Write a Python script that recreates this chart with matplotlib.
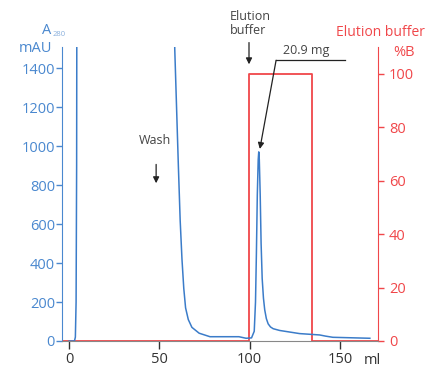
import matplotlib
matplotlib.use("Agg")
import matplotlib.pyplot as plt

plt.rcParams['font.family'] = ['Open Sans', 'DejaVu Sans']

# Absorbance trace (mAU), values above the top are off scale
volume = [0, 3.0, 3.5, 3.9, 4.2, 4.5, 5.0, 57.5, 58.5, 59.5, 60.5, 61.5, 62.5,
          63.5, 64.5, 66, 68, 72, 78, 94, 98, 101, 102.5, 103.2, 103.7, 104.2,
          104.7, 105, 105.3, 105.8, 106.3, 106.9, 107.6, 108.3, 109.2, 110.2,
          111.5, 113, 116.6, 127.6, 134, 138.7, 142, 146, 166.5]
a280 = [0, 0, 20, 200, 900, 3000, 4000, 4000, 1500, 1200, 900, 620, 420,
        270, 170, 110, 70, 40, 22, 22, 14, 16, 50, 200, 450, 750,
        930, 970, 930, 750, 500, 320, 220, 160, 115, 88,
        72, 63, 54, 38, 34, 31, 25, 19, 14]

# Elution buffer (%B)
buf_volume = [-4, 99.4, 99.4, 134.3, 134.3, 171]
buf_pct = [0, 0, 100, 100, 0, 0]

blue = "#3b7cc9"
blue_txt = "#4a88cf"
red = "#f0474a"
dark = "#333333"

W, H = 427, 371
fig = plt.figure(figsize=(W / 100, H / 100), dpi=100)
ax = fig.add_axes([62 / W, 1 - 341 / H, (378 - 62) / W, (341 - 47) / H])
ax2 = ax.twinx()

ax.plot(volume, a280, color=blue, linewidth=1.1, zorder=3)
ax2.plot(buf_volume, buf_pct, color=red, linewidth=1.3, zorder=2)
ax.set_zorder(ax2.get_zorder() + 1)
ax.patch.set_visible(False)

ax.set_xlim(-3.9, 171)
ax.set_ylim(0, 1508)
ax2.set_ylim(0, 110.1)

ax.set_xticks([0, 50, 100, 150])
ax.set_yticks(range(0, 1401, 200))
ax2.set_yticks(range(0, 101, 20))

ax.spines["top"].set_visible(False)
ax2.spines["top"].set_visible(False)
ax.spines["bottom"].set_color("#888888")
ax.spines["left"].set_color(blue_txt)
ax2.spines["right"].set_color(red)
ax2.spines["left"].set_visible(False)
ax2.spines["bottom"].set_visible(False)
ax.spines["right"].set_visible(False)

ax.tick_params(axis="x", colors=dark, length=6, width=1, labelsize=10.5, pad=2)
ax.tick_params(axis="y", colors=blue_txt, length=4, width=1, labelsize=10.5, pad=1)
ax2.tick_params(axis="y", colors=red, length=4, width=1, labelsize=10.5, pad=4)

# annotations
ax.text(47.6, 1030, "Wash", ha="center", va="center", fontsize=9, color="#444444")
ax.annotate("", xy=(48.2, 795), xytext=(48.2, 920),
            arrowprops=dict(arrowstyle="-|>", color="#222222", lw=0.9, mutation_scale=9))

ax.annotate("", xy=(99.6, 1405), xytext=(99.6, 1545), annotation_clip=False,
            arrowprops=dict(arrowstyle="-|>", color="#222222", lw=0.9, mutation_scale=9))
fig.text(230 / W, 1 - 24 / H, "Elution\nbuffer", ha="left", va="center", fontsize=9,
         color="#444444", linespacing=1.1)

ax.plot([114.6, 153], [1440, 1440], color="#222222", lw=0.9, clip_on=False)
ax.annotate("", xy=(105.6, 985), xytext=(114.6, 1440),
            arrowprops=dict(arrowstyle="-|>", color="#222222", lw=0.9, mutation_scale=9,
                            shrinkA=0, shrinkB=0))
ax.text(131.5, 1492, "20.9 mg", ha="center", va="center", fontsize=9, color="#444444")

# axis titles
fig.text(42 / W, 1 - 31 / H, "A", ha="left", va="center", fontsize=10.5, color=blue_txt)
fig.text(53 / W, 1 - 35 / H, "280", ha="left", va="center", fontsize=5.5, color="#8ab0dd")
fig.text(52 / W, 1 - 49 / H, "mAU", ha="right", va="center", fontsize=10.5, color=blue_txt)
fig.text(425 / W, 1 - 33 / H, "Elution buffer", ha="right", va="center", fontsize=10, color=red)
fig.text(393 / W, 1 - 53 / H, "%B", ha="left", va="center", fontsize=10.5, color=red)
fig.text(364 / W, 1 - 360 / H, "ml", ha="left", va="center", fontsize=10.5, color=dark)

fig.savefig("out.png", dpi=100)
